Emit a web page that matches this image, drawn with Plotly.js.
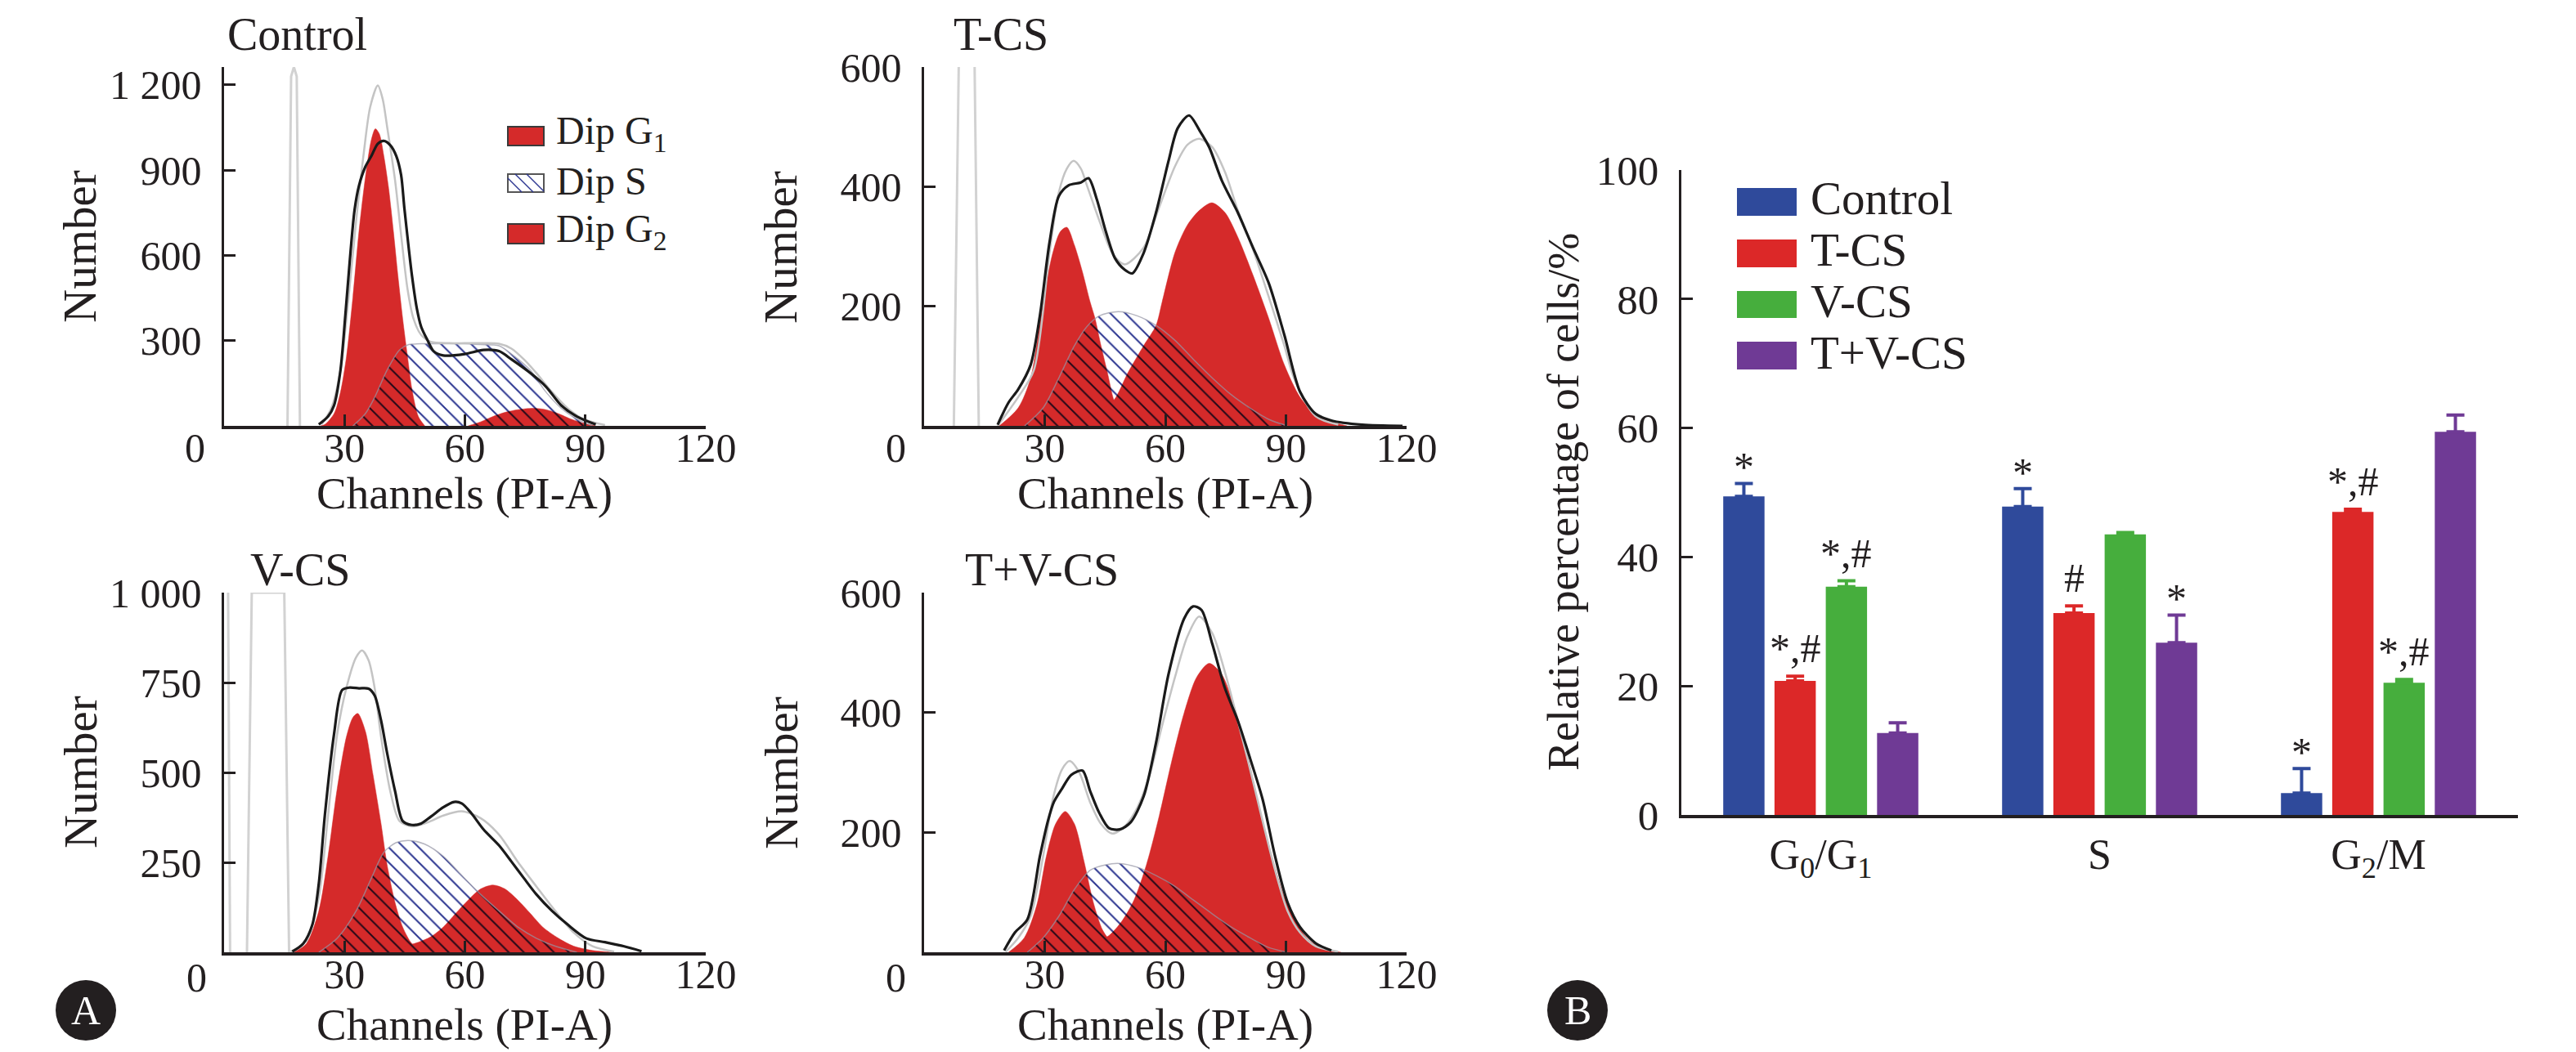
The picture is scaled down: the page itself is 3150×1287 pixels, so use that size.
<!DOCTYPE html>
<html><head><meta charset="utf-8">
<script src="https://cdn.plot.ly/plotly-3.0.1.min.js"></script>
<style>html,body{margin:0;padding:0;background:#fff;}#plot{width:3150px;height:1287px;}</style>
</head><body><div id="plot"></div>
<script>
// ---------------- Panel A: DNA histograms (channel vs number) ----------------
// Control
const ctrlDebrisX = [15.8, 16.7, 17.4, 18.1, 18.9];
const ctrlDebrisY = [0, 1230, 1263, 1230, 0];
const ctrlFitX = [24.3, 26.7, 29.0, 30.9, 32.9, 34.8, 36.4, 38.3, 39.5, 40.6, 42.6, 44.1, 45.7, 47.2, 49.1, 51.5, 56, 60, 64, 68.5, 71.6, 74.7, 77.8, 81.7, 85.6, 89.5, 94.9];
const ctrlFitY = [5, 62, 196, 435, 721, 960, 1122, 1198, 1151, 1055, 864, 673, 482, 377, 320, 296, 291, 291, 291, 289, 272, 234, 186, 119, 62, 24, 3];
const ctrlDataX = [23.6, 25.9, 27.4, 29.0, 30.2, 31.3, 32.5, 33.6, 35.2, 36.7, 38.3, 39.8, 41.4, 42.9, 44.1, 44.9, 46.0, 46.8, 48.0, 49.1, 50.7, 52.2, 54.6, 60.0, 64.6, 68.5, 71.6, 76.3, 80.2, 84.0, 87.9, 92.6];
const ctrlDataY = [5, 33, 72, 196, 387, 578, 759, 845, 912, 950, 993, 1003, 988, 950, 883, 769, 626, 530, 415, 349, 301, 263, 248, 253, 267, 263, 234, 186, 138, 72, 33, 5];
const ctrlG1X = [24.0, 25.1, 27.4, 29.0, 30.5, 32.1, 33.6, 35.2, 36.7, 37.7, 38.7, 39.8, 41.0, 42.2, 43.3, 44.5, 45.7, 46.8, 48.4, 50.0];
const ctrlG1Y = [0, 5, 43, 119, 244, 454, 683, 874, 1008, 1046, 1027, 950, 836, 683, 530, 377, 244, 129, 33, 0];
const ctrlSX = [32.1, 35.2, 37.5, 40.6, 43.7, 46.0, 49.9, 54.6, 59.2, 63.9, 68.5, 72.4, 76.3, 80.2, 84.0, 87.9, 91.8];
const ctrlSY = [0, 43, 100, 196, 267, 286, 289, 289, 289, 286, 282, 244, 196, 119, 62, 24, 0];
const ctrlG2X = [60.8, 63.9, 67.0, 70.1, 73.2, 77.1, 80.2, 83.3, 86.4, 89.5, 92.6];
const ctrlG2Y = [0, 14, 33, 48, 57, 62, 57, 43, 24, 10, 0];

// T-CS
const tcsDebrisX = [7.4, 8.7, 12.5, 13.6];
const tcsDebrisY = [0, 640, 640, 0];
const tcsFitX = [18.3, 23.4, 27.3, 31.2, 33.5, 35.5, 37.2, 39.0, 40.5, 43.6, 46.8, 49.9, 54.6, 58.5, 62.4, 65.5, 68.4, 71.7, 74.8, 78.0, 81.8, 85.7, 89.6, 92.0, 97.4, 103.0];
const tcsFitY = [0, 48, 93, 290, 390, 430, 443, 430, 402, 343, 289, 270, 298, 366, 434, 470, 480, 466, 425, 361, 295, 216, 134, 80, 16, 2];
const tcsDataX = [18.3, 21.0, 23.4, 26.5, 28.8, 31.2, 33.5, 35.9, 39.0, 40.9, 42.9, 45.2, 47.5, 49.9, 51.8, 54.6, 57.7, 60.8, 63.1, 65.9, 68.6, 70.9, 74.0, 78.0, 81.8, 85.7, 89.6, 93.5, 97.4, 101.3, 109.0, 119.0];
const tcsDataY = [2, 39, 61, 102, 184, 307, 384, 402, 407, 414, 380, 325, 280, 261, 255, 289, 357, 443, 498, 519, 493, 466, 411, 357, 298, 239, 152, 57, 20, 9, 2, 0];
const tcsG1X = [18.7, 23.4, 26.5, 29.6, 32.0, 33.9, 35.5, 37.4, 39.4, 41.3, 42.5, 44.0, 45.6, 47.2, 49.1, 51.4];
const tcsG1Y = [0, 30, 80, 207, 289, 325, 332, 302, 257, 207, 180, 134, 89, 43, 16, 0];
const tcsG2X = [33.5, 39.0, 43.6, 47.2, 50.7, 54.6, 57.7, 59.2, 62.4, 65.5, 68.6, 71.6, 74.8, 78.0, 81.8, 85.7, 89.6, 93.5, 97.4, 101.3, 105.2];
const tcsG2Y = [0, 9, 25, 43, 89, 134, 168, 207, 290, 336, 361, 373, 357, 316, 252, 180, 102, 48, 20, 7, 0];
const tcsSX = [25.0, 29.6, 33.5, 37.4, 40.5, 43.6, 48.3, 53.0, 57.7, 62.4, 67.0, 71.7, 76.4, 81.0, 85.7, 90.4];
const tcsSY = [0, 30, 80, 134, 166, 184, 191, 184, 168, 143, 111, 80, 52, 30, 11, 0];

// V-CS
const vcsDebrisX = [5.7, 6.9, 15.0, 16.2];
const vcsDebrisY = [0, 1000, 1000, 0];
const vcsDebris2X = [1.0, 1.5];
const vcsDebris2Y = [1000, 0];
const vcsFitX = [16.6, 20.5, 23.6, 25.9, 28.2, 30.5, 32.9, 34.4, 36.0, 37.5, 39.1, 41.4, 43.7, 46.8, 50.7, 54.6, 59.2, 63.9, 68.5, 73.2, 77.8, 82.5, 87.1, 91.8, 97.2];
const vcsFitY = [2, 32, 153, 380, 608, 736, 820, 839, 812, 736, 600, 448, 365, 350, 361, 380, 392, 373, 327, 251, 183, 115, 55, 17, 2];
const vcsDataX = [17.0, 19.7, 22.0, 23.6, 25.1, 27.4, 29.4, 31.3, 33.6, 36.0, 37.5, 39.1, 40.6, 42.6, 44.5, 46.8, 49.1, 51.5, 54.6, 57.3, 59.2, 61.5, 64.6, 68.5, 71.6, 74.7, 77.8, 81.7, 85.6, 90.2, 94.9, 99.5, 104.0];
const vcsDataY = [2, 24, 77, 191, 380, 607, 729, 736, 734, 733, 714, 645, 555, 448, 365, 354, 358, 377, 403, 418, 414, 388, 342, 297, 252, 206, 161, 115, 77, 39, 28, 17, 3];
const vcsG1X = [17.4, 20.5, 23.6, 25.9, 28.2, 30.5, 32.1, 33.3, 35.2, 37.1, 39.1, 40.6, 42.6, 44.5, 46.8, 49.9];
const vcsG1Y = [0, 24, 115, 267, 456, 600, 653, 664, 615, 494, 358, 244, 138, 70, 24, 0];
const vcsSX = [23.6, 28.2, 32.9, 36.7, 39.8, 42.9, 46.0, 49.9, 54.6, 59.2, 63.9, 68.5, 73.2, 77.8, 82.5, 87.9];
const vcsSY = [0, 39, 115, 206, 278, 305, 311, 301, 267, 214, 161, 115, 70, 39, 17, 0];
const vcsG2X = [37.5, 43.7, 48.4, 51.5, 54.6, 57.7, 60.8, 63.9, 67.0, 70.0, 73.2, 76.3, 79.4, 83.3, 87.1, 91.8, 97.0];
const vcsG2Y = [0, 13, 28, 43, 70, 108, 145, 176, 187, 176, 145, 108, 70, 39, 17, 5, 0];

// T+V-CS
const tvFitX = [20.3, 23.4, 26.5, 29.6, 32.0, 34.3, 36.2, 38.6, 41.3, 44.0, 46.8, 49.9, 53.0, 56.1, 59.2, 62.4, 65.5, 68.4, 71.7, 74.8, 78.0, 81.1, 84.2, 87.3, 90.4, 93.5, 97.4, 103.0];
const tvFitY = [1, 24, 60, 160, 255, 305, 319, 300, 250, 214, 198, 210, 241, 296, 378, 459, 527, 560, 532, 468, 387, 305, 219, 137, 69, 33, 10, 1];
const tvDataX = [19.9, 22.6, 25.7, 28.8, 30.8, 32.3, 34.3, 36.6, 39.4, 41.3, 43.6, 46.0, 48.7, 51.4, 54.6, 57.7, 60.8, 64.7, 66.9, 69.0, 71.7, 74.8, 78.0, 81.1, 84.2, 87.3, 90.4, 93.5, 97.4, 101.3];
const tvDataY = [3, 33, 55, 160, 219, 251, 273, 296, 303, 269, 232, 207, 205, 217, 260, 350, 464, 557, 577, 571, 514, 441, 387, 323, 255, 160, 83, 42, 15, 3];
const tvG1X = [21.0, 24.9, 28.0, 30.4, 32.7, 35.1, 37.4, 39.8, 42.1, 44.4, 46.8, 49.9];
const tvG1Y = [0, 24, 78, 160, 214, 235, 214, 151, 83, 37, 15, 0];
const tvG2X = [32.7, 37.4, 42.1, 46.0, 49.1, 52.2, 55.3, 58.5, 61.6, 64.7, 67.8, 70.9, 74.0, 77.2, 80.3, 83.4, 86.5, 89.6, 92.8, 95.9, 99.8, 103.7];
const tvG2Y = [0, 5, 15, 28, 51, 87, 146, 228, 319, 400, 459, 482, 464, 409, 332, 241, 160, 92, 46, 19, 5, 0];
const tvSX = [25.7, 29.6, 33.5, 37.4, 41.3, 45.2, 48.7, 53.0, 57.7, 62.4, 67.0, 71.7, 76.4, 81.1, 85.7, 90.4];
const tvSY = [0, 24, 60, 105, 137, 146, 148, 142, 128, 110, 87, 64, 42, 24, 8, 0];

const histXTicks = [30, 60, 90, 120];
const ctrlYTicks = [300, 600, 900, 1200];
const ctrlYText = ['300', '600', '900', '1 200'];
const tcsYTicks = [200, 400, 600];
const vcsYTicks = [250, 500, 750, 1000];
const vcsYText = ['250', '500', '750', '1 000'];
const tvYTicks = [200, 400, 600];
const histLegend = ['Dip G<sub>1</sub>', 'Dip S', 'Dip G<sub>2</sub>'];

// ---------------- Panel B: bar chart ----------------
const phases = ['G<sub>0</sub>/G<sub>1</sub>', 'S', 'G<sub>2</sub>/M'];
const groups = ['Control', 'T-CS', 'V-CS', 'T+V-CS'];
const controlPct = [49.4, 47.8, 3.4];
const controlErr = [2.0, 2.8, 3.8];
const controlSig = ['*', '*', '*'];
const tcsPct = [20.8, 31.3, 47.0];
const tcsErr = [0.7, 1.1, 0.4];
const tcsSig = ['*,#', '#', '*,#'];
const vcsPct = [35.4, 43.5, 20.5];
const vcsErr = [0.9, 0.3, 0.5];
const vcsSig = ['*,#', '', '*,#'];
const tvPct = [12.7, 26.7, 59.4];
const tvErr = [1.6, 4.3, 2.6];
const tvSig = ['', '*', ''];
const barYTicks = [0, 20, 40, 60, 80, 100];

// ---------------- styling ----------------
const W = 3150, H = 1287;
const PX = v => v / W, PY = v => 1 - v / H;
const FONT = 'Liberation Serif, Times New Roman, serif';
const INK = '#231f20';
const RED = '#d52a2a';
const FITGRAY = '#c4c4c4';
const HATCH = '#2d3791';
const barColors = ['#2f4a9b', '#dc2828', '#46ae3d', '#6f3a95'];
const BARGAP = 0.2645, GROUPGAP = 0.195;

function hist(xa, ya, d) {
  const base = {type: 'scatter', mode: 'lines', xaxis: xa, yaxis: ya, showlegend: false, hoverinfo: 'skip'};
  const sp = {shape: 'spline', smoothing: 0.8};
  const t = [];
  t.push(Object.assign({}, base, {x: d.g1x, y: d.g1y, fill: 'tozeroy', fillcolor: RED, line: Object.assign({}, sp, {color: RED, width: 0.5})}));
  t.push(Object.assign({}, base, {x: d.g2x, y: d.g2y, fill: 'tozeroy', fillcolor: RED, line: Object.assign({}, sp, {color: RED, width: 0.5})}));
  t.push(Object.assign({}, base, {x: d.sx, y: d.sy, fill: 'tozeroy', fillcolor: 'rgba(0,0,0,0)',
    fillpattern: {shape: '\\', fgcolor: HATCH, bgcolor: 'rgba(0,0,0,0)', size: 13, solidity: 0.16},
    line: Object.assign({}, sp, {color: 'rgba(150,150,165,0.7)', width: 1.5})}));
  (d.debris || []).forEach(function (p) {
    t.push(Object.assign({}, base, {x: p[0], y: p[1], line: {color: '#d2d2d2', width: 3}}));
  });
  t.push(Object.assign({}, base, {x: d.fitx, y: d.fity, line: Object.assign({}, sp, {color: FITGRAY, width: 2.5})}));
  t.push(Object.assign({}, base, {x: d.datax, y: d.datay, line: Object.assign({}, sp, {color: '#1a1a1a', width: 3.2})}));
  return t;
}

let traces = [];
traces = traces.concat(hist('x', 'y', {g1x: ctrlG1X, g1y: ctrlG1Y, g2x: ctrlG2X, g2y: ctrlG2Y, sx: ctrlSX, sy: ctrlSY,
  debris: [[ctrlDebrisX, ctrlDebrisY]], fitx: ctrlFitX, fity: ctrlFitY, datax: ctrlDataX, datay: ctrlDataY}));
traces = traces.concat(hist('x2', 'y2', {g1x: tcsG1X, g1y: tcsG1Y, g2x: tcsG2X, g2y: tcsG2Y, sx: tcsSX, sy: tcsSY,
  debris: [[tcsDebrisX, tcsDebrisY]], fitx: tcsFitX, fity: tcsFitY, datax: tcsDataX, datay: tcsDataY}));
traces = traces.concat(hist('x3', 'y3', {g1x: vcsG1X, g1y: vcsG1Y, g2x: vcsG2X, g2y: vcsG2Y, sx: vcsSX, sy: vcsSY,
  debris: [[vcsDebrisX, vcsDebrisY], [vcsDebris2X, vcsDebris2Y]], fitx: vcsFitX, fity: vcsFitY, datax: vcsDataX, datay: vcsDataY}));
traces = traces.concat(hist('x4', 'y4', {g1x: tvG1X, g1y: tvG1Y, g2x: tvG2X, g2y: tvG2Y, sx: tvSX, sy: tvSY,
  debris: [], fitx: tvFitX, fity: tvFitY, datax: tvDataX, datay: tvDataY}));

const pctSets = [controlPct, tcsPct, vcsPct, tvPct];
const errSets = [controlErr, tcsErr, vcsErr, tvErr];
const sigSets = [controlSig, tcsSig, vcsSig, tvSig];
groups.forEach(function (g, i) {
  traces.push({type: 'bar', name: g, x: phases, y: pctSets[i], xaxis: 'x5', yaxis: 'y5', showlegend: false,
    marker: {color: barColors[i], line: {width: 0}}, hoverinfo: 'skip',
    error_y: {type: 'data', array: errSets[i], arrayminus: errSets[i].map(function () { return 0; }), symmetric: false,
      color: barColors[i], thickness: 4, width: 11}});
});

const axBase = {showline: true, linecolor: INK, linewidth: 3.5, ticks: 'inside', ticklen: 14, tickwidth: 3, tickcolor: INK,
  showgrid: false, zeroline: false, tickfont: {family: FONT, size: 50, color: INK}, fixedrange: true};
function xh(dom, anchor) {
  return Object.assign({}, axBase, {domain: dom, anchor: anchor, range: [0, 120], tickmode: 'array', tickvals: histXTicks,
    ticktext: histXTicks.map(String), ticklabelstandoff: -20});
}
function yh(dom, anchor, rng, tv, tt) {
  return Object.assign({}, axBase, {domain: dom, anchor: anchor, range: rng, tickmode: 'array', tickvals: tv,
    ticktext: tt || tv.map(String), ticklabelstandoff: 14});
}
const colL = [PX(274), PX(863)], colR = [PX(1130), PX(1720)];
const rowT = [PY(521), PY(82)], rowB = [PY(1165), PY(725)];

const annotations = [];
function ann(text, x, y, size, extra) {
  annotations.push(Object.assign({text: text, x: PX(x), y: PY(y), xref: 'paper', yref: 'paper', showarrow: false,
    xanchor: 'center', yanchor: 'middle', font: {family: FONT, size: size, color: INK}}, extra || {}));
}
// panel titles
ann('Control', 276, 42, 56, {xanchor: 'left'});
ann('T-CS', 1164, 42, 56, {xanchor: 'left'});
ann('V-CS', 304, 697, 56, {xanchor: 'left'});
ann('T+V-CS', 1178, 697, 56, {xanchor: 'left'});
// axis titles
[[98, 302], [955, 302], [98, 945], [955, 945]].forEach(function (p) { ann('Number', p[0], p[1], 57, {textangle: -90}); });
[[568, 604], [1425, 604], [568, 1253], [1425, 1253]].forEach(function (p) { ann('Channels (PI-A)', p[0], p[1], 55); });
[[238, 548], [1095, 548], [240, 1196], [1095, 1196]].forEach(function (p) { ann('0', p[0], p[1], 50); });
// histogram legend
[163, 221, 283].forEach(function (cy, i) { ann(histLegend[i], 678, cy, 48, {xanchor: 'left'}); });
// bar chart y title
ann('Relative percentage of cells/%', 1912, 614, 54, {textangle: -90});
// bar legend
[243, 306, 369, 432].forEach(function (cy, i) { ann(groups[i], 2212, cy, 57, {xanchor: 'left'}); });
// A / B badges
ann('A', 105, 1236, 50, {font: {family: FONT, size: 50, color: '#ffffff'}});
ann('B', 1929, 1236, 50, {font: {family: FONT, size: 50, color: '#ffffff'}});
// significance marks
const slot = (1 - BARGAP) / 4;
sigSets.forEach(function (sigs, gi) {
  sigs.forEach(function (s, ci) {
    if (!s) return;
    annotations.push({text: s, x: ci + (gi - 1.5) * slot, y: pctSets[gi][ci] + errSets[gi][ci], xref: 'x5', yref: 'y5',
      showarrow: false, xanchor: 'center', yanchor: 'bottom', yshift: s === '*' ? -10 : 4,
      font: {family: FONT, size: 50, color: INK}});
  });
});

const shapes = [];
function rect(x0, y0, x1, y1, fill, lineColor, lw) {
  shapes.push({type: 'rect', xref: 'paper', yref: 'paper', x0: PX(x0), x1: PX(x1), y0: PY(y1), y1: PY(y0),
    fillcolor: fill, line: {color: lineColor, width: lw}, layer: 'above'});
}
rect(621, 155, 665, 178, RED, '#3a3a3a', 2);
rect(621, 213, 665, 235, '#ffffff', '#555555', 2);
[[621, 218, 638, 235], [630, 213, 652, 235], [644, 213, 665, 234]].forEach(function (l) {
  shapes.push({type: 'line', xref: 'paper', yref: 'paper', x0: PX(l[0]), y0: PY(l[1]), x1: PX(l[2]), y1: PY(l[3]),
    line: {color: HATCH, width: 1.5}, layer: 'above'});
});
rect(621, 274, 665, 298, RED, '#3a3a3a', 2);
[[230, 264], [293, 327], [356, 389], [418, 452]].forEach(function (r, i) { rect(2124, r[0], 2197, r[1], barColors[i], barColors[i], 0); });
[[68, 1199, 142, 1273], [1892, 1199, 1966, 1273]].forEach(function (c) {
  shapes.push({type: 'circle', xref: 'paper', yref: 'paper', x0: PX(c[0]), x1: PX(c[2]), y0: PY(c[3]), y1: PY(c[1]),
    fillcolor: INK, line: {width: 0}, layer: 'below'});
});

const layout = {
  width: W, height: H, margin: {l: 0, r: 0, t: 0, b: 0}, paper_bgcolor: '#ffffff', plot_bgcolor: 'rgba(0,0,0,0)',
  font: {family: FONT, color: INK}, showlegend: false, barmode: 'group', bargap: BARGAP, bargroupgap: GROUPGAP,
  xaxis: xh(colL, 'y'), yaxis: yh(rowT, 'x', [0, 1263], ctrlYTicks, ctrlYText),
  xaxis2: xh(colR, 'y2'), yaxis2: yh(rowT, 'x2', [0, 600], tcsYTicks),
  xaxis3: xh(colL, 'y3'), yaxis3: yh(rowB, 'x3', [0, 1000], vcsYTicks, vcsYText),
  xaxis4: xh(colR, 'y4'), yaxis4: yh(rowB, 'x4', [0, 600], tvYTicks),
  xaxis5: Object.assign({}, axBase, {domain: [PX(2056), PX(3079)], anchor: 'y5', type: 'category', range: [-0.5, 2.5],
    ticks: '', tickfont: {family: FONT, size: 52, color: INK}, ticklabelstandoff: 0}),
  yaxis5: Object.assign({}, axBase, {domain: [PY(997), PY(208)], anchor: 'x5', range: [0, 100], tickmode: 'array',
    tickvals: barYTicks, ticktext: barYTicks.map(String), ticklabelstandoff: 14, tickfont: {family: FONT, size: 51, color: INK}}),
  annotations: annotations, shapes: shapes
};

Plotly.newPlot('plot', traces, layout, {staticPlot: true}).then(function (gd) {
  gd.querySelectorAll('path.js-fill').forEach(function (p) {
    const f = p.style.fill || p.getAttribute('fill') || '';
    if (f.indexOf('url(') >= 0) p.style.mixBlendMode = 'multiply';
  });
});
</script></body></html>
